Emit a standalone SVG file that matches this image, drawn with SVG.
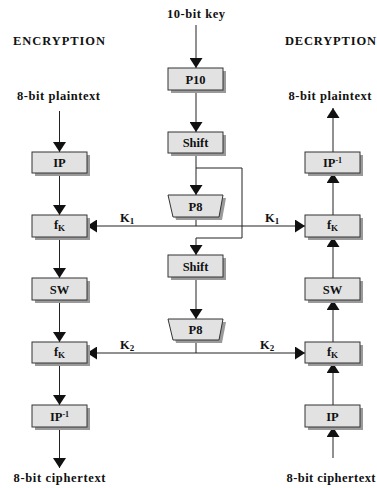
<svg xmlns="http://www.w3.org/2000/svg" width="377" height="488" viewBox="0 0 377 488">
  <style>
    .t { font-family: "Liberation Serif", "Times New Roman", serif; font-weight: bold; font-size: 12.5px; fill: #111; }
    .c { text-anchor: middle; }
    .box { fill: #e2e2e2; stroke: #333; stroke-width: 1; }
    .sh { fill: #9a9a9a; }
    .ln { stroke: #222; stroke-width: 1; fill: none; }
    .arr { marker-end: url(#head); }
  </style>
  <defs>
    <marker id="head" markerUnits="userSpaceOnUse" viewBox="0 0 10 13" markerWidth="10" markerHeight="13" refX="10" refY="6.5" orient="auto">
      <path d="M0,0 L10,6.5 L0,13 z" fill="#111"/>
    </marker>
  </defs>
  <rect width="377" height="488" fill="#fff"/>

  <!-- headings and terminal labels -->
  <g id="labels">
    <text class="t" x="13" y="45" textLength="92" lengthAdjust="spacing">ENCRYPTION</text>
    <text class="t" x="285" y="45" textLength="91" lengthAdjust="spacing">DECRYPTION</text>
    <text class="t c" x="196" y="18" textLength="58" lengthAdjust="spacing">10-bit key</text>
    <text class="t c" x="58.5" y="100" textLength="83" lengthAdjust="spacing">8-bit plaintext</text>
    <text class="t c" x="330" y="100" textLength="83" lengthAdjust="spacing">8-bit plaintext</text>
    <text class="t c" x="59.5" y="482" textLength="92" lengthAdjust="spacing">8-bit ciphertext</text>
    <text class="t c" x="331" y="482" textLength="89" lengthAdjust="spacing">8-bit ciphertext</text>
    <text class="t" x="120" y="222">K<tspan font-size="9" dy="2">1</tspan></text>
    <text class="t" x="265" y="222">K<tspan font-size="9" dy="2">1</tspan></text>
    <text class="t" x="120" y="349">K<tspan font-size="9" dy="2">2</tspan></text>
    <text class="t" x="260" y="349">K<tspan font-size="9" dy="2">2</tspan></text>
  </g>

  <!-- connectors -->
  <g id="connectors">
    <!-- key generation -->
    <line class="ln arr" x1="196" y1="25" x2="196" y2="68"/>
    <line class="ln arr" x1="196" y1="90" x2="196" y2="132"/>
    <line class="ln arr" x1="196" y1="153" x2="196" y2="195"/>
    <polyline class="ln arr" points="196,168 242,168 242,238 196,238 196,255"/>
    <line class="ln arr" x1="196" y1="277" x2="196" y2="319"/>
    <line class="ln" x1="196" y1="217" x2="196" y2="226"/>
    <line class="ln" x1="196" y1="340" x2="196" y2="353"/>
    <!-- subkeys -->
    <line class="ln arr" x1="196" y1="226" x2="87" y2="226"/>
    <line class="ln arr" x1="196" y1="226" x2="305" y2="226"/>
    <line class="ln arr" x1="196" y1="353" x2="87" y2="353"/>
    <line class="ln arr" x1="196" y1="353" x2="305" y2="353"/>
    <!-- encryption -->
    <line class="ln arr" x1="59.5" y1="111" x2="59.5" y2="152"/>
    <line class="ln arr" x1="59.5" y1="173" x2="59.5" y2="215"/>
    <line class="ln arr" x1="59.5" y1="237" x2="59.5" y2="278"/>
    <line class="ln arr" x1="59.5" y1="300" x2="59.5" y2="342"/>
    <line class="ln arr" x1="59.5" y1="363" x2="59.5" y2="405"/>
    <line class="ln arr" x1="59.5" y1="427" x2="59.5" y2="468"/>
    <!-- decryption -->
    <line class="ln arr" x1="333" y1="458" x2="333" y2="427"/>
    <line class="ln arr" x1="333" y1="405" x2="333" y2="363"/>
    <line class="ln arr" x1="333" y1="342" x2="333" y2="300"/>
    <line class="ln arr" x1="333" y1="278" x2="333" y2="237"/>
    <line class="ln arr" x1="333" y1="215" x2="333" y2="173"/>
    <line class="ln arr" x1="333" y1="152" x2="333" y2="108"/>
  </g>

  <!-- key schedule -->
  <g id="p10"><rect class="sh" x="171" y="71" width="55" height="22"/><rect class="box" x="168" y="68" width="55" height="22"/><text class="t c" x="195.5" y="83.5">P10</text></g>
  <g id="shift1"><rect class="sh" x="171" y="135" width="55" height="21"/><rect class="box" x="168" y="132" width="55" height="21"/><text class="t c" x="195.5" y="147">Shift</text></g>
  <g id="p8a"><polygon class="sh" points="171,198 226,198 222,220 176,220"/><polygon class="box" points="168,195 223,195 219,217 173,217"/><text class="t c" x="195.5" y="210.5">P8</text></g>
  <g id="shift2"><rect class="sh" x="171" y="258" width="55" height="22"/><rect class="box" x="168" y="255" width="55" height="22"/><text class="t c" x="195.5" y="270.5">Shift</text></g>
  <g id="p8b"><polygon class="sh" points="171,322 226,322 222,343 176,343"/><polygon class="box" points="168,319 223,319 219,340 173,340"/><text class="t c" x="195.5" y="334">P8</text></g>

  <!-- encryption path -->
  <g id="enc-ip"><rect class="sh" x="35" y="155" width="55" height="21"/><rect class="box" x="32" y="152" width="55" height="21"/><text class="t c" x="59.5" y="167">IP</text></g>
  <g id="enc-fk1"><rect class="sh" x="35" y="218" width="55" height="22"/><rect class="box" x="32" y="215" width="55" height="22"/><text class="t c" x="59.5" y="229">f<tspan font-size="9" dy="2">K</tspan></text></g>
  <g id="enc-sw"><rect class="sh" x="35" y="281" width="55" height="22"/><rect class="box" x="32" y="278" width="55" height="22"/><text class="t c" x="59.5" y="293.5">SW</text></g>
  <g id="enc-fk2"><rect class="sh" x="35" y="345" width="55" height="21"/><rect class="box" x="32" y="342" width="55" height="21"/><text class="t c" x="59.5" y="356">f<tspan font-size="9" dy="2">K</tspan></text></g>
  <g id="enc-ipinv"><rect class="sh" x="35" y="408" width="55" height="22"/><rect class="box" x="32" y="405" width="55" height="22"/><text class="t c" x="59.5" y="420.5">IP<tspan font-size="8" dy="-4">-1</tspan></text></g>

  <!-- decryption path -->
  <g id="dec-ipinv"><rect class="sh" x="308" y="155" width="55" height="21"/><rect class="box" x="305" y="152" width="55" height="21"/><text class="t c" x="332.5" y="167">IP<tspan font-size="8" dy="-4">-1</tspan></text></g>
  <g id="dec-fk1"><rect class="sh" x="308" y="218" width="55" height="22"/><rect class="box" x="305" y="215" width="55" height="22"/><text class="t c" x="332.5" y="229">f<tspan font-size="9" dy="2">K</tspan></text></g>
  <g id="dec-sw"><rect class="sh" x="308" y="281" width="55" height="22"/><rect class="box" x="305" y="278" width="55" height="22"/><text class="t c" x="332.5" y="293.5">SW</text></g>
  <g id="dec-fk2"><rect class="sh" x="308" y="345" width="55" height="21"/><rect class="box" x="305" y="342" width="55" height="21"/><text class="t c" x="332.5" y="356">f<tspan font-size="9" dy="2">K</tspan></text></g>
  <g id="dec-ip"><rect class="sh" x="308" y="408" width="55" height="22"/><rect class="box" x="305" y="405" width="55" height="22"/><text class="t c" x="332.5" y="420.5">IP</text></g>
</svg>
